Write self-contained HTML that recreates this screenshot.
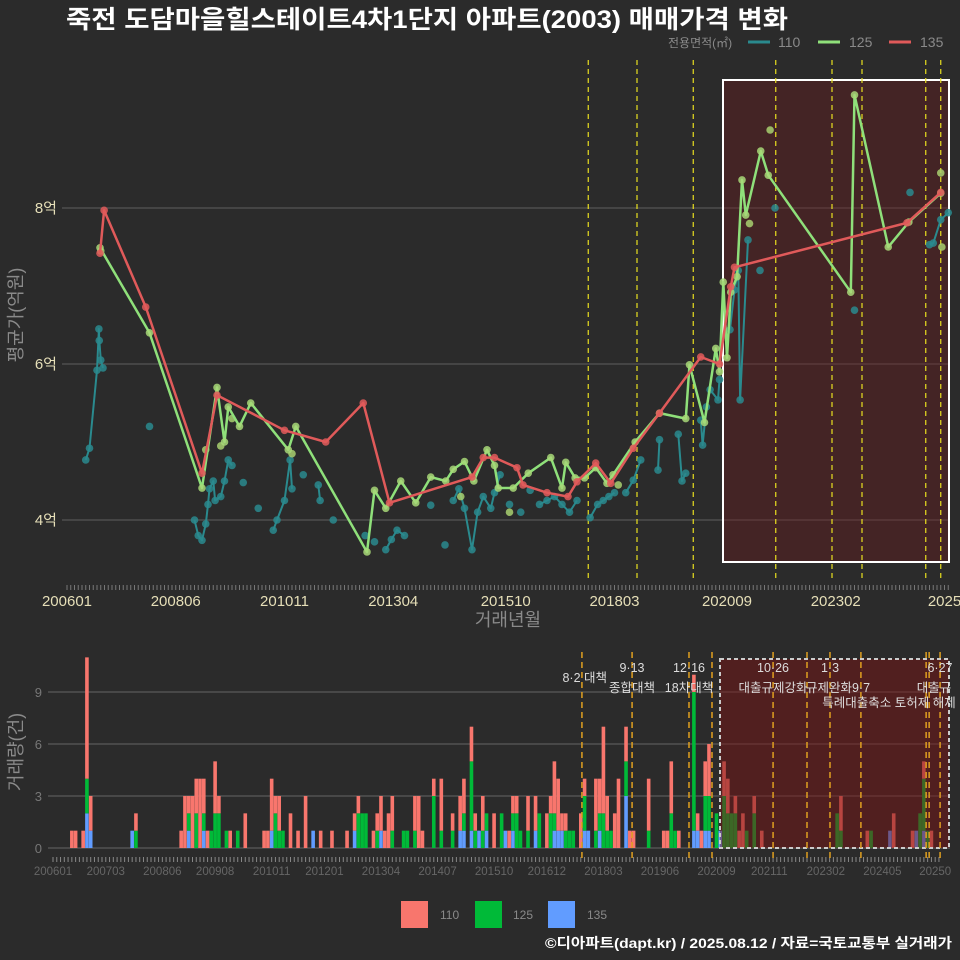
<!DOCTYPE html>
<html><head><meta charset="utf-8">
<style>
html,body{margin:0;padding:0;background:#2b2b2b;}
svg{display:block;font-family:"Liberation Sans","Noto Sans CJK KR",sans-serif;}
</style></head>
<body>
<svg id="chart" width="960" height="960" viewBox="0 0 960 960" xmlns="http://www.w3.org/2000/svg">
<rect x="0" y="0" width="960" height="960" fill="#2b2b2b"/>
<text x="66" y="28" fill="#ffffff" font-size="25" font-weight="bold" textLength="722" lengthAdjust="spacingAndGlyphs">죽전 도담마을힐스테이트4차1단지 아파트(2003) 매매가격 변화</text>
<g>
<text x="668" y="47" fill="#8a8a8a" font-size="12">전용면적(㎡)</text>
<line x1="748" y1="42" x2="770" y2="42" stroke="#2a8a8e" stroke-width="3"/>
<text x="778" y="47" fill="#8a8a8a" font-size="14">110</text>
<line x1="818" y1="42" x2="840" y2="42" stroke="#8fe07a" stroke-width="3"/>
<text x="849" y="47" fill="#8a8a8a" font-size="14">125</text>
<line x1="889" y1="42" x2="911" y2="42" stroke="#e05a5a" stroke-width="3"/>
<text x="920" y="47" fill="#8a8a8a" font-size="14">135</text>
</g>
<g id="upper"></g>
<g id="lower"></g>
<text x="508" y="626" fill="#8a8a8a" font-size="18" text-anchor="middle">거래년월</text>
<text transform="translate(22,315) rotate(-90)" fill="#8a8a8a" font-size="18" text-anchor="middle">평균가(억원)</text>
<text transform="translate(22,752) rotate(-90)" fill="#8a8a8a" font-size="18" text-anchor="middle">거래량(건)</text>
<g>
<rect x="401" y="901" width="27" height="27" fill="#f8766d"/>
<text x="440" y="919" fill="#8a8a8a" font-size="12">110</text>
<rect x="475" y="901" width="27" height="27" fill="#00ba38"/>
<text x="513" y="919" fill="#8a8a8a" font-size="12">125</text>
<rect x="548" y="901" width="27" height="27" fill="#619cff"/>
<text x="587" y="919" fill="#8a8a8a" font-size="12">135</text>
</g>
<text x="545" y="948" fill="#ffffff" font-size="14" font-weight="bold" textLength="407" lengthAdjust="spacingAndGlyphs">©디아파트(dapt.kr) / 2025.08.12 / 자료=국토교통부 실거래가</text>
</svg>
<script>
// ---- data (t = months since 2006-01, price in 억원) ----
const tealT = [5,6,8,8.5,8.6,9,9.6,22,34,35,36,37,37.6,38,39,39.5,41,42,43,44,47,51,55,56,58,59.5,60,63,67,67.5,71,79.5,82,85,86.5,88,90,97,100.8,103,104.5,106,108,109.5,111,113,114,115.5,118,121,123.5,126,128,130,132,134,136,139.5,141.5,143,144.5,146,149,151,153,157.6,158,163,164,165,169,169.5,170.5,171.5,173.6,174,176.8,178,179,179.5,181.6,184.8,188.8,210,224.8,230,231,233,235];
const tealP = [4.77,4.92,5.92,6.45,6.3,6.05,5.95,5.2,4.0,3.8,3.74,3.95,4.2,4.4,4.5,4.25,4.3,4.5,4.77,4.7,4.48,4.15,3.87,4.0,4.25,4.77,4.4,4.58,4.45,4.25,4.0,3.8,3.72,3.62,3.75,3.87,3.8,4.19,3.68,4.25,4.4,4.15,3.62,4.1,4.3,4.15,4.35,4.58,4.2,4.1,4.38,4.2,4.25,4.3,4.2,4.1,4.25,4.03,4.2,4.25,4.3,4.35,4.35,4.51,4.77,4.64,5.03,5.1,4.5,4.6,5.28,4.96,5.45,5.67,5.54,5.8,6.44,6.95,7.2,5.54,7.59,7.2,8.0,6.69,8.2,7.53,7.55,7.85,7.94];
const greenT = [8.8,22,36,40,42,43,46,49,59,61,80,82,85,89,93,97,101,103,106,108.5,112,114,115,119,123,129,132,133,135.5,138,141,144,145.6,151.5,158,165,166,170,173,174,175,176,177,178.7,180,181,185,187,209,210,219,224.5,233];
const greenP = [7.49,6.4,4.41,5.7,5.0,5.45,5.2,5.5,4.9,5.2,3.59,4.38,4.15,4.5,4.22,4.55,4.5,4.65,4.75,4.5,4.9,4.7,4.41,4.41,4.6,4.8,4.41,4.74,4.54,4.54,4.67,4.47,4.58,5.0,5.37,5.3,5.99,5.25,6.2,5.9,7.05,6.08,6.92,7.12,8.36,7.91,8.73,8.42,6.92,9.45,7.5,7.82,8.19];
const greenExtraT = [9,37,41,44,60,105,118,147,182,187.5,233,233.3];
const greenExtraP = [7.45,4.9,4.95,5.3,4.85,4.3,4.1,4.45,7.8,9.0,8.45,7.5];
const redT = [8.8,9.9,21,36,40,58,69,79,86,108,111,114,120,121.6,128,133.6,136,141,145,151,158,169,174,177,178,224,233];
const redP = [7.42,7.97,6.73,4.6,5.6,5.15,5.0,5.5,4.22,4.55,4.8,4.8,4.67,4.45,4.35,4.3,4.49,4.73,4.47,4.92,5.37,6.09,6.0,6.99,7.24,7.81,8.2];
const xTickLabels = ["200601","200806","201011","201304","201510","201803","202009","202302","2025"];
const xTickT = [0,29,58,87,117,146,176,205,234];
const yTickVals = [4,6,8];
const yTickLabels = ["4억","6억","8억"];
const policyT = [139,152,167,189,204,212,229,233];
// volume bars
const barT =   [5,6,8,9,10,21,22,34,35,36,37,38,39,40,41,42,43,44,46,47,49,51,56,57,58,59,60,61,63,65,67,69,71,74,78,80,81,82,83,85,86,87,88,89,90,93,94,96,97,98,101,103,106,108,109,111,112,113,114,115,117,119,120,121,122,123,124,126,128,129,131,132,133,134,135,136,137,138,140,141,142,144,145,146,147,148,149,150,152,153,154,158,162,163,164,165,166,170,171,172,173,174,176,177,178,179,180,181,182,183,184,186,188,208,209,216,217,222,223,228,229,230,231,232,233];
const bar110 = [1,1,1,7,2,0,1,1,3,1,3,2,4,2,1,0,3,1,0,1,0,2,1,1,3,1,2,0,2,1,3,0,1,1,1,1,1,0,0,1,1,2,1,2,2,0,0,2,3,1,1,3,1,2,2,2,1,0,2,0,2,0,0,1,1,1,0,2,2,0,2,1,3,3,1,1,0,0,2,1,0,3,2,5,2,0,2,4,2,1,1,3,1,1,3,0,1,1,1,1,2,3,0,0,2,2,0,1,1,2,0,1,1,0,2,1,0,0,2,1,0,0,1,0,1];
const bar125 = [0,0,0,2,0,0,1,0,0,1,0,2,0,1,0,1,2,2,1,0,1,0,0,0,0,2,1,1,0,0,0,0,0,0,0,0,2,2,2,0,1,0,0,0,1,1,1,1,0,0,3,1,1,0,1,4,1,0,1,1,0,2,0,0,1,2,1,1,0,2,0,2,1,0,0,1,1,1,0,2,0,1,1,2,1,1,0,0,2,0,0,1,0,0,2,1,0,8,0,0,2,2,2,0,3,2,2,2,0,0,1,2,0,2,1,0,1,0,0,0,0,2,3,1,0];
const bar135 = [0,0,0,2,1,1,0,0,0,1,0,0,0,1,0,0,0,0,0,0,0,0,0,0,1,0,0,0,0,0,0,1,0,0,0,1,0,0,0,0,0,1,0,0,0,0,0,0,0,0,0,0,0,1,1,1,0,1,0,1,0,0,1,0,1,0,0,0,1,0,0,0,1,1,1,0,0,0,0,1,1,0,1,0,0,0,0,0,3,0,0,0,0,0,0,0,0,1,1,0,1,1,0,1,0,0,0,0,0,0,0,0,0,0,0,0,0,1,0,0,1,0,1,0,0];
const volTickVals = [0,3,6,9];
const volTickLabels = ["200601","200703","200806","200908","201011","201201","201304","201407","201510","201612","201803","201906","202009","202111","202302","202405","20250"];
const volTickT = [0,14,29,43,58,72,87,102,117,131,146,161,176,190,205,220,234];
const volPolicyT = [140.3,153.6,168.7,174.8,191,200,206.1,214.3,231.6,232.4,235.3];

const NS = "http://www.w3.org/2000/svg";
function mk(parent, tag, attrs){ const e=document.createElementNS(NS,tag); for(const k in attrs) e.setAttribute(k,attrs[k]); parent.appendChild(e); return e; }
// upper axes
const ux = t => 67 + 3.75*t;
const uy = p => 208 + (8-p)*78;
const U = document.getElementById('upper');
for(let i=0;i<yTickVals.length;i++){
  const g = mk(U,'line',{x1:62,x2:950,y1:uy(yTickVals[i]),y2:uy(yTickVals[i]),stroke:'#555',"stroke-width":1.3});
   
  const tx = mk(U,'text',{x:57,y:uy(yTickVals[i])+5,fill:'#e6dfb8',"font-size":15,"text-anchor":"end"});
  tx.textContent = yTickLabels[i];
   
}
for(let m=0;m<=235;m++){
  const tk = mk(U,'line',{x1:ux(m),x2:ux(m),y1:585,y2:590,stroke:'#777',"stroke-width":1});
   
}
for(let i=0;i<xTickLabels.length;i++){
  const tx = mk(U,'text',{x:ux(xTickT[i]),y:606,fill:'#e6dfb8',"font-size":15,"text-anchor":"middle"});
  tx.textContent = xTickLabels[i];
   
}
const hl = mk(U,'rect',{x:723,y:80,width:226,height:482,fill:'rgba(110,25,30,0.38)',stroke:'#ffffff',"stroke-width":2});
 
for(const t of policyT){
  const l = mk(U,'line',{x1:ux(t),x2:ux(t),y1:60,y2:582,stroke:'#e8e020',"stroke-width":1.2,"stroke-dasharray":"5,4"});
   
}
function series(T,P,color,name,maxGap,dotColor,lw){
  let d='';
  for(let i=0;i<T.length;i++){
    const brk = i===0 || (maxGap && T[i]-T[i-1]>maxGap);
    d += (brk?'M':'L')+ux(T[i]).toFixed(1)+','+uy(P[i]).toFixed(1);
  }
  const p = mk(U,'path',{d:d,fill:'none',stroke:color,"stroke-width":lw||2.5,"stroke-linejoin":"round"});
   
  for(let i=0;i<T.length;i++){
    const c = mk(U,'circle',{cx:ux(T[i]),cy:uy(P[i]),r:3.8,fill:dotColor||color,opacity:0.85});
     
  }
}
series(tealT,tealP,'#2a8a8e','area-110',2.2,null,2);
for(let i=0;i<greenExtraT.length;i++){
  const c = mk(U,'circle',{cx:ux(greenExtraT[i]),cy:uy(greenExtraP[i]),r:3.8,fill:'#a8d070',opacity:0.85});
   
}
series(greenT,greenP,'#8fe07a','area-125',0,'#a8d878');
series(redT,redP,'#e05a5a','area-135',0);

// lower axes
const lx = t => 53 + 3.77*t;
const ly = v => 848 - v*17.33;
const L = document.getElementById('lower');
for(const v of volTickVals){
  const g = mk(L,'line',{x1:48,x2:950,y1:ly(v),y2:ly(v),stroke:'#5a5a5a',"stroke-width":1.3});
   
  const tx = mk(L,'text',{x:42,y:ly(v)+5,fill:'#777',"font-size":13,"text-anchor":"end"});
  tx.textContent = String(v);
   
}
for(let m=0;m<=235;m++){
  const tk = mk(L,'line',{x1:lx(m),x2:lx(m),y1:857,y2:862,stroke:'#888',"stroke-width":1});
   
}
for(let i=0;i<volTickLabels.length;i++){
  const tx = mk(L,'text',{x:lx(volTickT[i]),y:875,fill:'#666',"font-size":11.5,"text-anchor":"middle"});
  tx.textContent = volTickLabels[i];
   
}
const bw = 3.6;
for(let i=0;i<barT.length;i++){
  let base = 0;
  const parts = [[bar135[i],'#619cff','bar-135'],[bar125[i],'#00ba38','bar-125'],[bar110[i],'#f8766d','bar-110']];
  for(const [v,c,n] of parts){
    if(v>0){
      const r = mk(L,'rect',{x:lx(barT[i])-bw/2,y:ly(base+v),width:bw,height:ly(base)-ly(base+v),fill:c});
       
      base += v;
    }
  }
}
const lhl = mk(L,'rect',{x:720,y:659,width:229,height:189,fill:'rgba(120,20,20,0.5)',stroke:'#cccccc',"stroke-width":2,"stroke-dasharray":"4,3"});
 
for(const t of volPolicyT){
  const l = mk(L,'line',{x1:lx(t),x2:lx(t),y1:652,y2:858,stroke:'#e0a020',"stroke-width":1.5,"stroke-dasharray":"6,4"});
   
}
const notes = [["8·2 대책",582,682,"end"],["9·13",632,672,"middle"],["종합대책",632,692,"middle"],["12·16",689,672,"middle"],["18차대책",689,692,"middle"],["10·26",773,672,"middle"],["대출규제강화",773,692,"middle"],["1·3",830,672,"middle"],["규제완화9·7",838,692,"middle"],["특례대출축소 토허제 해제",889,707,"middle"],["6·27",940,672,"middle"],["대출규",934,692,"middle"]];
for(const [s,x,y,a] of notes){
  const tx = mk(L,'text',{x:a==="end"?607:x,y:y,fill:'#dddddd',"font-size":12.5,"text-anchor":a});
  tx.textContent = s;
   
}
</script>
</body></html>
